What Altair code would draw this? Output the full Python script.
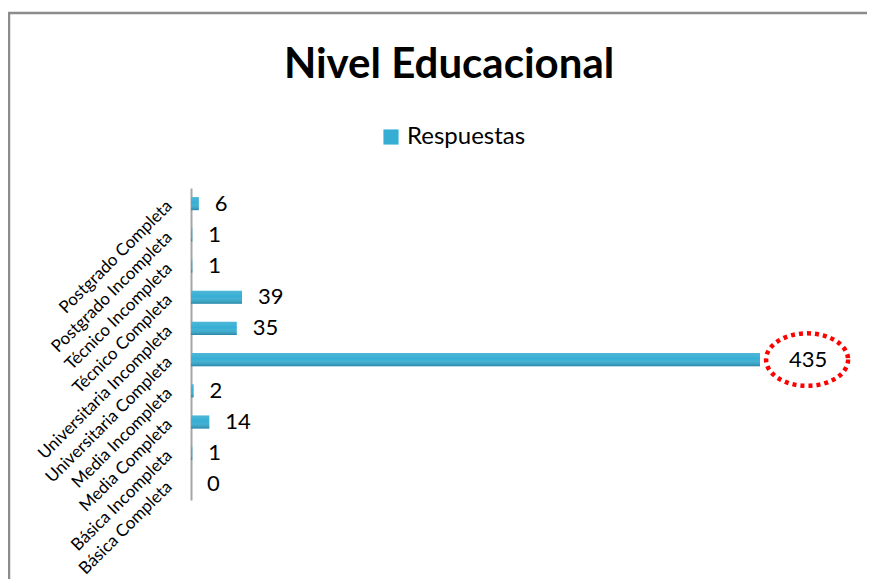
import altair as alt
import pandas as pd

categories = ["Postgrado Completa", "Postgrado Incompleta", "Técnico Incompleta",
              "Técnico Completa", "Universitaria Incompleta", "Universitaria Completa",
              "Media Incompleta", "Media Completa", "Básica Incompleta", "Básica Completa"]
respuestas = [6, 1, 1, 39, 35, 435, 2, 14, 1, 0]
series_name = "Respuestas"
highlight = "Universitaria Completa"

df = pd.DataFrame({"cat": categories, "val": respuestas, "serie": [series_name] * len(categories)})

FONT = "Lato"
W, H = 654, 312

xs = alt.Scale(domain=[0, 500], nice=False)
ys = alt.Scale(domain=categories, paddingInner=0.58, paddingOuter=0.29)

base = alt.Chart(df)
one = alt.Chart(pd.DataFrame({"k": [0]}))

frame_left = one.mark_rule(stroke="#8c8c8c", strokeWidth=2.5).encode(
    x=alt.value(-182), y=alt.value(-175), y2=alt.value(H + 200))
frame_top = one.mark_rule(stroke="#8c8c8c", strokeWidth=2.5).encode(
    x=alt.value(-183), x2=alt.value(W + 100), y=alt.value(-175))

bars = base.mark_bar().encode(
    x=alt.X("val:Q", scale=xs, axis=None),
    y=alt.Y("cat:N", scale=ys,
            axis=alt.Axis(title=None, labelAngle=-45, labelAlign="right", labelBaseline="middle",
                          labelFont=FONT, labelFontSize=17, labelColor="#000000",
                          labelLimit=400, labelPadding=22, ticks=False,
                          domainColor="#a6a6a6", domainWidth=2)),
    color=alt.Color("serie:N", scale=alt.Scale(range=["#36aed4"]),
                    legend=alt.Legend(title=None, orient="none", legendX=188, legendY=-63,
                                      symbolType="square", symbolSize=230, labelFont=FONT,
                                      labelFontSize=24, labelColor="#000000")),
)

shade = alt.Gradient(gradient="linear", x1=0, x2=0, y1=0, y2=1,
                     stops=[alt.GradientStop(color="rgba(255,255,255,0.12)", offset=0),
                            alt.GradientStop(color="rgba(255,255,255,0)", offset=0.45),
                            alt.GradientStop(color="rgba(10,60,80,0.35)", offset=1)])

bars_shade = base.mark_bar(fill=shade).encode(
    x=alt.X("val:Q", scale=xs), y=alt.Y("cat:N", scale=ys))

labels = base.mark_text(align="left", baseline="middle", dx=16, font=FONT, fontSize=22,
                        color="#000000").encode(
    x=alt.X("val:Q", scale=xs), y=alt.Y("cat:N", scale=ys), text="val:Q"
).transform_filter(alt.datum.cat != highlight)

hl_label = base.mark_text(align="left", baseline="middle", dx=29, font=FONT, fontSize=22,
                          color="#000000").encode(
    x=alt.X("val:Q", scale=xs), y=alt.Y("cat:N", scale=ys), text="val:Q"
).transform_filter(alt.datum.cat == highlight)

ELLIPSE = ("M 1 0 C 1 0.3535 0.5523 0.64 0 0.64 C -0.5523 0.64 -1 0.3535 -1 0 "
           "C -1 -0.3535 -0.5523 -0.64 0 -0.64 C 0.5523 -0.64 1 -0.3535 1 0 Z")

ellipse = base.transform_filter(alt.datum.cat == highlight).transform_calculate(
    ex="datum.val + 36"
).mark_point(
    shape=ELLIPSE, size=6724, filled=False, stroke="#ff0000", strokeWidth=4.5,
    strokeDash=[4, 4], opacity=1,
).encode(x=alt.X("ex:Q", scale=xs), y=alt.Y("cat:N", scale=ys))

chart = alt.layer(frame_left, frame_top, bars, bars_shade, labels, hl_label, ellipse).properties(
    width=W, height=H,
    title=alt.TitleParams("Nivel Educacional", font=FONT, fontSize=42, fontWeight="bold",
                          color="#000000", anchor="middle", dx=-69, offset=0, dy=75),
    padding={"left": 183, "top": 180, "right": 22, "bottom": 79},
    autosize=alt.AutoSizeParams(type="none"),
).configure_view(stroke=None)

chart.save("out.html", embed_options={"renderer": "svg", "actions": False})
